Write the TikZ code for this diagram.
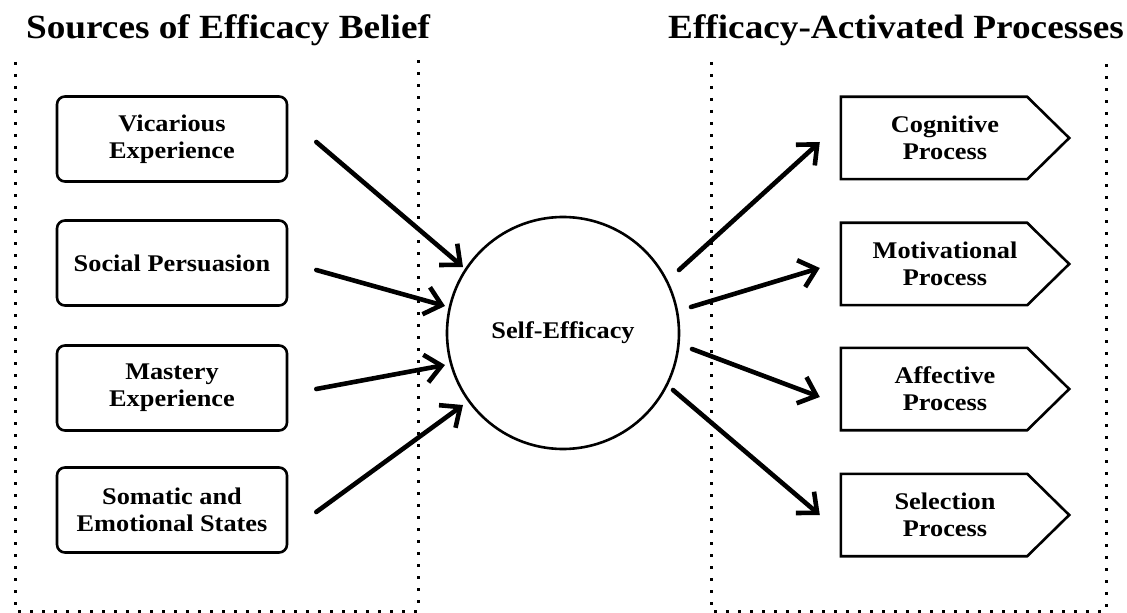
\documentclass[tikz,border=0pt]{standalone}
\usepackage{fontspec}
\setmainfont[FakeStretch=1.1]{Liberation Serif}
\usetikzlibrary{arrows.meta,calc}

\tikzset{
  srcbox/.style={draw, line width=2.6bp, rounded corners=8bp, minimum width=230bp,
    minimum height=85bp, align=center, font=\fontsize{24}{27}\selectfont\bfseries},
  proclabel/.style={minimum width=208bp, minimum height=82bp, inner sep=0pt,
    align=center, font=\fontsize{24}{27}\selectfont\bfseries},
  procedge/.style={line width=2.6bp, line join=miter},
  corecircle/.style={draw, circle, line width=2.6bp, minimum size=232bp,
    font=\fontsize{24}{27}\selectfont\bfseries},
  heading/.style={font=\fontsize{34}{38}\selectfont\bfseries, anchor=base},
  frame/.style={line width=3bp, dash pattern=on 3bp off 9bp},
  flow/.style={line width=4.6bp, line cap=round,
    -{Straight Barb[length=16bp,width=28bp,line width=4.6bp]}}
}

\begin{document}
\begin{tikzpicture}[x=1bp,y=-1bp]
\useasboundingbox (0,0) rectangle (1127,613);

% headings
\node[heading] (hsrc) at (228,39) {Sources of Efficacy Belief};
\node[heading] (hproc) at (896,39) {Efficacy-Activated Processes};

% dotted frames (open at the top)
\draw[frame] (15,62) -- (15,611) -- (418,611) -- (418,55);
\draw[frame] (711,62) -- (711,611) -- (1106,611) -- (1106,62);

% sources
\node[srcbox] (vic) at (172,139) {Vicarious\\Experience};
\node[srcbox] (soc) at (172,263) {Social Persuasion};
\node[srcbox] (mas) at (172,388) {Mastery\\Experience};
\node[srcbox] (som) at (172,510) {Somatic and\\Emotional States};

% central belief
\node[corecircle] (se) at (563,333) {Self-Efficacy};

% processes: pentagon outlines around text nodes
\node[proclabel] (cog) at (945,138) {Cognitive\\Process};
\node[proclabel] (mot) at (945,264) {Motivational\\Process};
\node[proclabel] (aff) at (945,389) {Affective\\Process};
\node[proclabel] (sel) at (945,515) {Selection\\Process};
\foreach \p in {cog,mot,aff,sel}{
  \draw[procedge] (\p.north west) -- ($(\p.north east)+(-22,0)$) -- ($(\p.east)+(20,0)$)
    -- ($(\p.south east)+(-22,0)$) -- (\p.south west) -- cycle;
}

% arrow end points
\coordinate (v1) at ($(vic.east)+(28,3)$);
\coordinate (v2) at ($(se.center)+(-100,-66)$);
\coordinate (s1) at ($(soc.east)+(28,7)$);
\coordinate (s2) at ($(se.center)+(-118,-27)$);
\coordinate (m1) at ($(mas.east)+(28,1)$);
\coordinate (m2) at ($(se.center)+(-118,32)$);
\coordinate (e1) at ($(som.east)+(28,2)$);
\coordinate (e2) at ($(se.center)+(-100,72)$);

\coordinate (c1) at ($(se.center)+(116,-63)$);
\coordinate (c2) at ($(cog.west)+(-21,4)$);
\coordinate (o1) at ($(se.center)+(128,-26)$);
\coordinate (o2) at ($(mot.west)+(-21,4)$);
\coordinate (a1) at ($(se.center)+(129,16)$);
\coordinate (a2) at ($(aff.west)+(-21,8)$);
\coordinate (l1) at ($(se.center)+(110,57)$);
\coordinate (l2) at ($(sel.west)+(-21,0)$);

\draw[flow] (v1) -- (v2);
\draw[flow] (s1) -- (s2);
\draw[flow] (m1) -- (m2);
\draw[flow] (e1) -- (e2);
\draw[flow] (c1) -- (c2);
\draw[flow] (o1) -- (o2);
\draw[flow] (a1) -- (a2);
\draw[flow] (l1) -- (l2);
\end{tikzpicture}
\end{document}
